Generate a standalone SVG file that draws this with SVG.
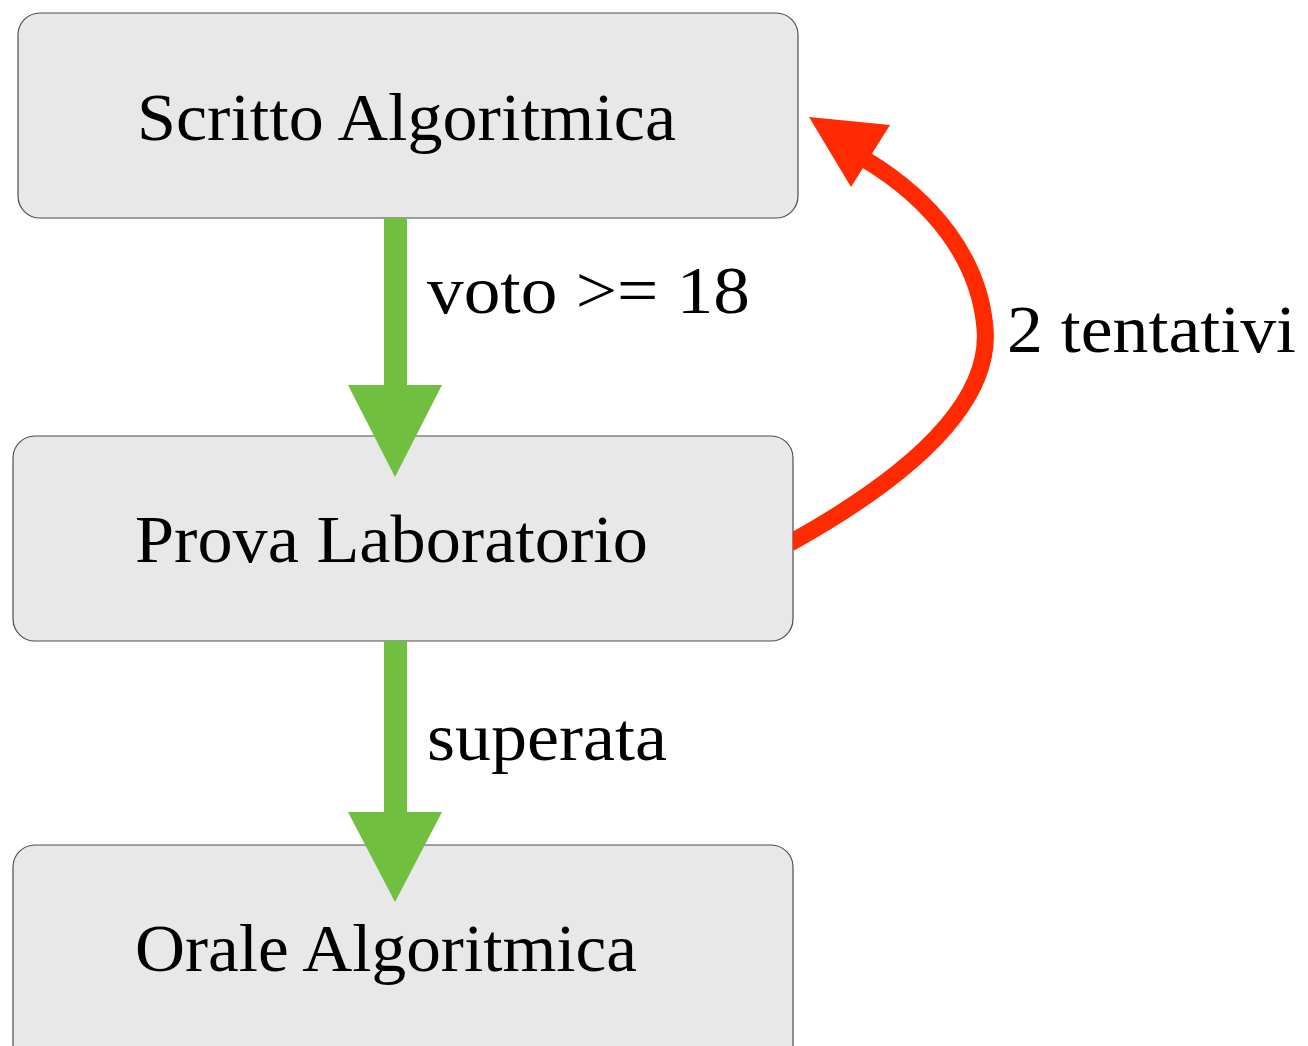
<svg xmlns="http://www.w3.org/2000/svg" width="1308" height="1046" viewBox="0 0 1308 1046">
<style>
.box{fill:#e8e8e8;stroke:#4d4d4d;stroke-width:1.2}
.t{font-family:"Liberation Serif","DejaVu Serif",serif;font-size:68px;fill:#000}
.g{fill:#70bf41}
</style>
<defs><clipPath id="right"><rect x="793" y="0" width="515" height="1046"/></clipPath></defs>
<rect width="1308" height="1046" fill="#fff"/>
<g id="n1"><rect class="box" x="18" y="13" width="780" height="205" rx="22"/><text class="t" x="137" y="140" textLength="539" lengthAdjust="spacingAndGlyphs">Scritto Algoritmica</text></g>
<g id="n2"><rect class="box" x="13" y="436" width="780" height="205" rx="22"/><text class="t" x="135" y="562" textLength="513" lengthAdjust="spacingAndGlyphs">Prova Laboratorio</text></g>
<g id="n3"><rect class="box" x="13" y="845" width="780" height="230" rx="22"/><text class="t" x="135" y="971" textLength="502" lengthAdjust="spacingAndGlyphs">Orale Algoritmica</text></g>
<g id="connectors">
<g id="e1"><rect class="g" x="384" y="218" width="23" height="168"/><polygon class="g" points="348,385 442,385 395,477"/></g>
<g id="e2"><rect class="g" x="384" y="641" width="23" height="172"/><polygon class="g" points="348,812 442,812 395,902"/></g>
<g id="e3"><path d="M790,543 C900,482 992,408 985,328 C979,258 932,200 866,160" fill="none" stroke="#ff2a00" stroke-width="17" clip-path="url(#right)"/><polygon points="809,117 890,125 851,187" fill="#ff2a00"/></g>
<text class="t" x="427" y="313" textLength="323" lengthAdjust="spacingAndGlyphs">voto &gt;= 18</text>
<text class="t" x="427" y="760" textLength="240" lengthAdjust="spacingAndGlyphs">superata</text>
<text class="t" x="1007" y="352" textLength="289" lengthAdjust="spacingAndGlyphs">2 tentativi</text>
</g>
</svg>
